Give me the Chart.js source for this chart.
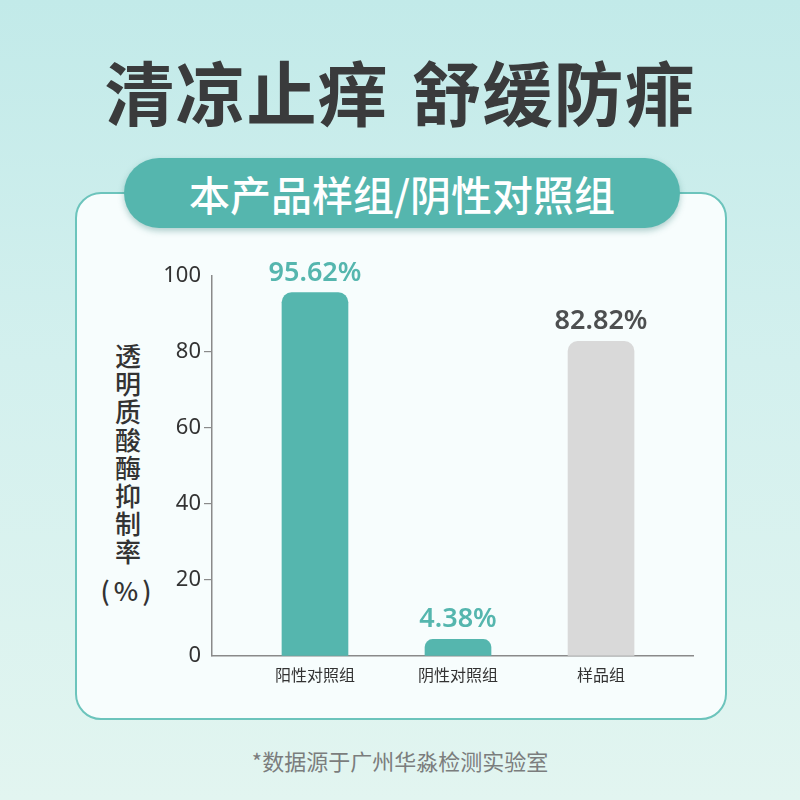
<!DOCTYPE html>
<html>
<head>
<meta charset="utf-8">
<script src="https://cdn.jsdelivr.net/npm/chart.js@4"></script>
<style>
  html,body{margin:0;padding:0;}
  body{width:800px;height:800px;position:relative;overflow:hidden;
    background:linear-gradient(180deg,#c2eae9 0%,#d3f0ee 45%,#e2f5f0 100%);
    font-family:"Noto Sans CJK SC","Noto Sans",sans-serif;}
  #title{position:absolute;left:0;top:46px;width:800px;text-align:center;
    font-size:70px;font-weight:700;color:#3a3b3c;line-height:90px;letter-spacing:1px;word-spacing:6px;}
  #card{position:absolute;left:75px;top:192px;width:648px;height:524px;
    border:2px solid #6cc4bc;border-radius:26px;background:#f7fdfd;}
  #pill{position:absolute;left:124px;top:158px;width:556px;height:70px;border-radius:35px;
    background:#55b6ae;color:#fff;font-size:41px;font-weight:500;text-align:center;line-height:70px;
    box-shadow:0 3px 6px rgba(40,120,115,0.35);}
  #ytitle{position:absolute;left:93px;top:341px;width:70px;text-align:center;
    font-size:26px;font-weight:500;line-height:28px;color:#333;}
  #ytitle .p{display:block;margin-top:11px;letter-spacing:4px;}
  #footer{position:absolute;left:0;top:744px;width:800px;text-align:center;font-size:22px;color:#7b7d7d;line-height:32px;}
  #c{position:absolute;left:0;top:0;}
</style>
</head>
<body>
<div id="title">清凉止痒 舒缓防痱</div>
<div id="card"></div>
<div id="pill">本产品样组/阴性对照组</div>
<div id="ytitle">透<br>明<br>质<br>酸<br>酶<br>抑<br>制<br>率<span class="p">(%)</span></div>
<div id="footer">*数据源于广州华淼检测实验室</div>
<canvas id="c" width="800" height="800"></canvas>
<script>
const categories = ['阳性对照组', '阴性对照组', '样品组'];
const values = [95.62, 4.38, 82.82];
const valueLabels = ['95.62%', '4.38%', '82.82%'];
const yTicks = [0, 20, 40, 60, 80, 100];
const barColors = ['#55b6ae', '#55b6ae', '#d9d9d9'];
const labelColors = ['#55b6ae', '#55b6ae', '#4d4f50'];

const valueLabelPlugin = {
  id: 'valueLabels',
  afterDatasetsDraw(chart) {
    const ctx = chart.ctx;
    const meta = chart.getDatasetMeta(0);
    ctx.save();
    ctx.font = '600 27px "Noto Sans","Open Sans",sans-serif';
    ctx.textAlign = 'center';
    ctx.textBaseline = 'alphabetic';
    meta.data.forEach((bar, i) => {
      ctx.fillStyle = labelColors[i];
      ctx.fillText(valueLabels[i], bar.x, bar.y - 12);
    });
    ctx.restore();
  }
};

new Chart(document.getElementById('c'), {
  type: 'bar',
  data: {
    datasets: [{
      data: values.map((v, i) => ({x: i, y: v})),
      backgroundColor: barColors,
      borderRadius: {topLeft: 10, topRight: 10, bottomLeft: 0, bottomRight: 0},
      borderSkipped: 'bottom',
      barThickness: 66
    }]
  },
  options: {
    responsive: false,
    animation: false,
    devicePixelRatio: 1,
    layout: {padding: {left: 0, right: 107, top: 276, bottom: 0}},
    plugins: {legend: {display: false}, tooltip: {enabled: false}},
    scales: {
      x: {
        type: 'linear',
        offset: false,
        min: -0.72,
        max: 2.643,
        afterBuildTicks: (scale) => { scale.ticks = categories.map((c, i) => ({value: i})); },
        afterFit: (scale) => { scale.height = 144; },
        grid: {display: false, drawTicks: false, offset: false},
        border: {display: true, color: '#8a8a8a', width: 1.5},
        ticks: {
          callback: (v) => categories[v],
          font: {size: 16, family: '"Noto Sans CJK SC", sans-serif'},
          color: '#333',
          padding: 9,
          maxRotation: 0,
          autoSkip: false
        }
      },
      y: {
        min: 0,
        max: 100,
        afterBuildTicks: (scale) => { scale.ticks = yTicks.map(v => ({value: v})); },
        afterFit: (scale) => { scale.width = 212; },
        grid: {
          drawOnChartArea: false,
          drawTicks: true,
          tickLength: 8,
          color: (ctx) => (ctx.tick && (ctx.tick.value === 100 || ctx.tick.value === 0)) ? 'rgba(0,0,0,0)' : '#8a8a8a',
          lineWidth: 1.2
        },
        border: {display: true, color: '#8a8a8a', width: 1.5},
        ticks: {
          font: {size: 22, family: '"Noto Sans","Liberation Sans",sans-serif'},
          color: '#333',
          padding: 3
        }
      }
    }
  },
  plugins: [valueLabelPlugin]
});
</script>
</body>
</html>
